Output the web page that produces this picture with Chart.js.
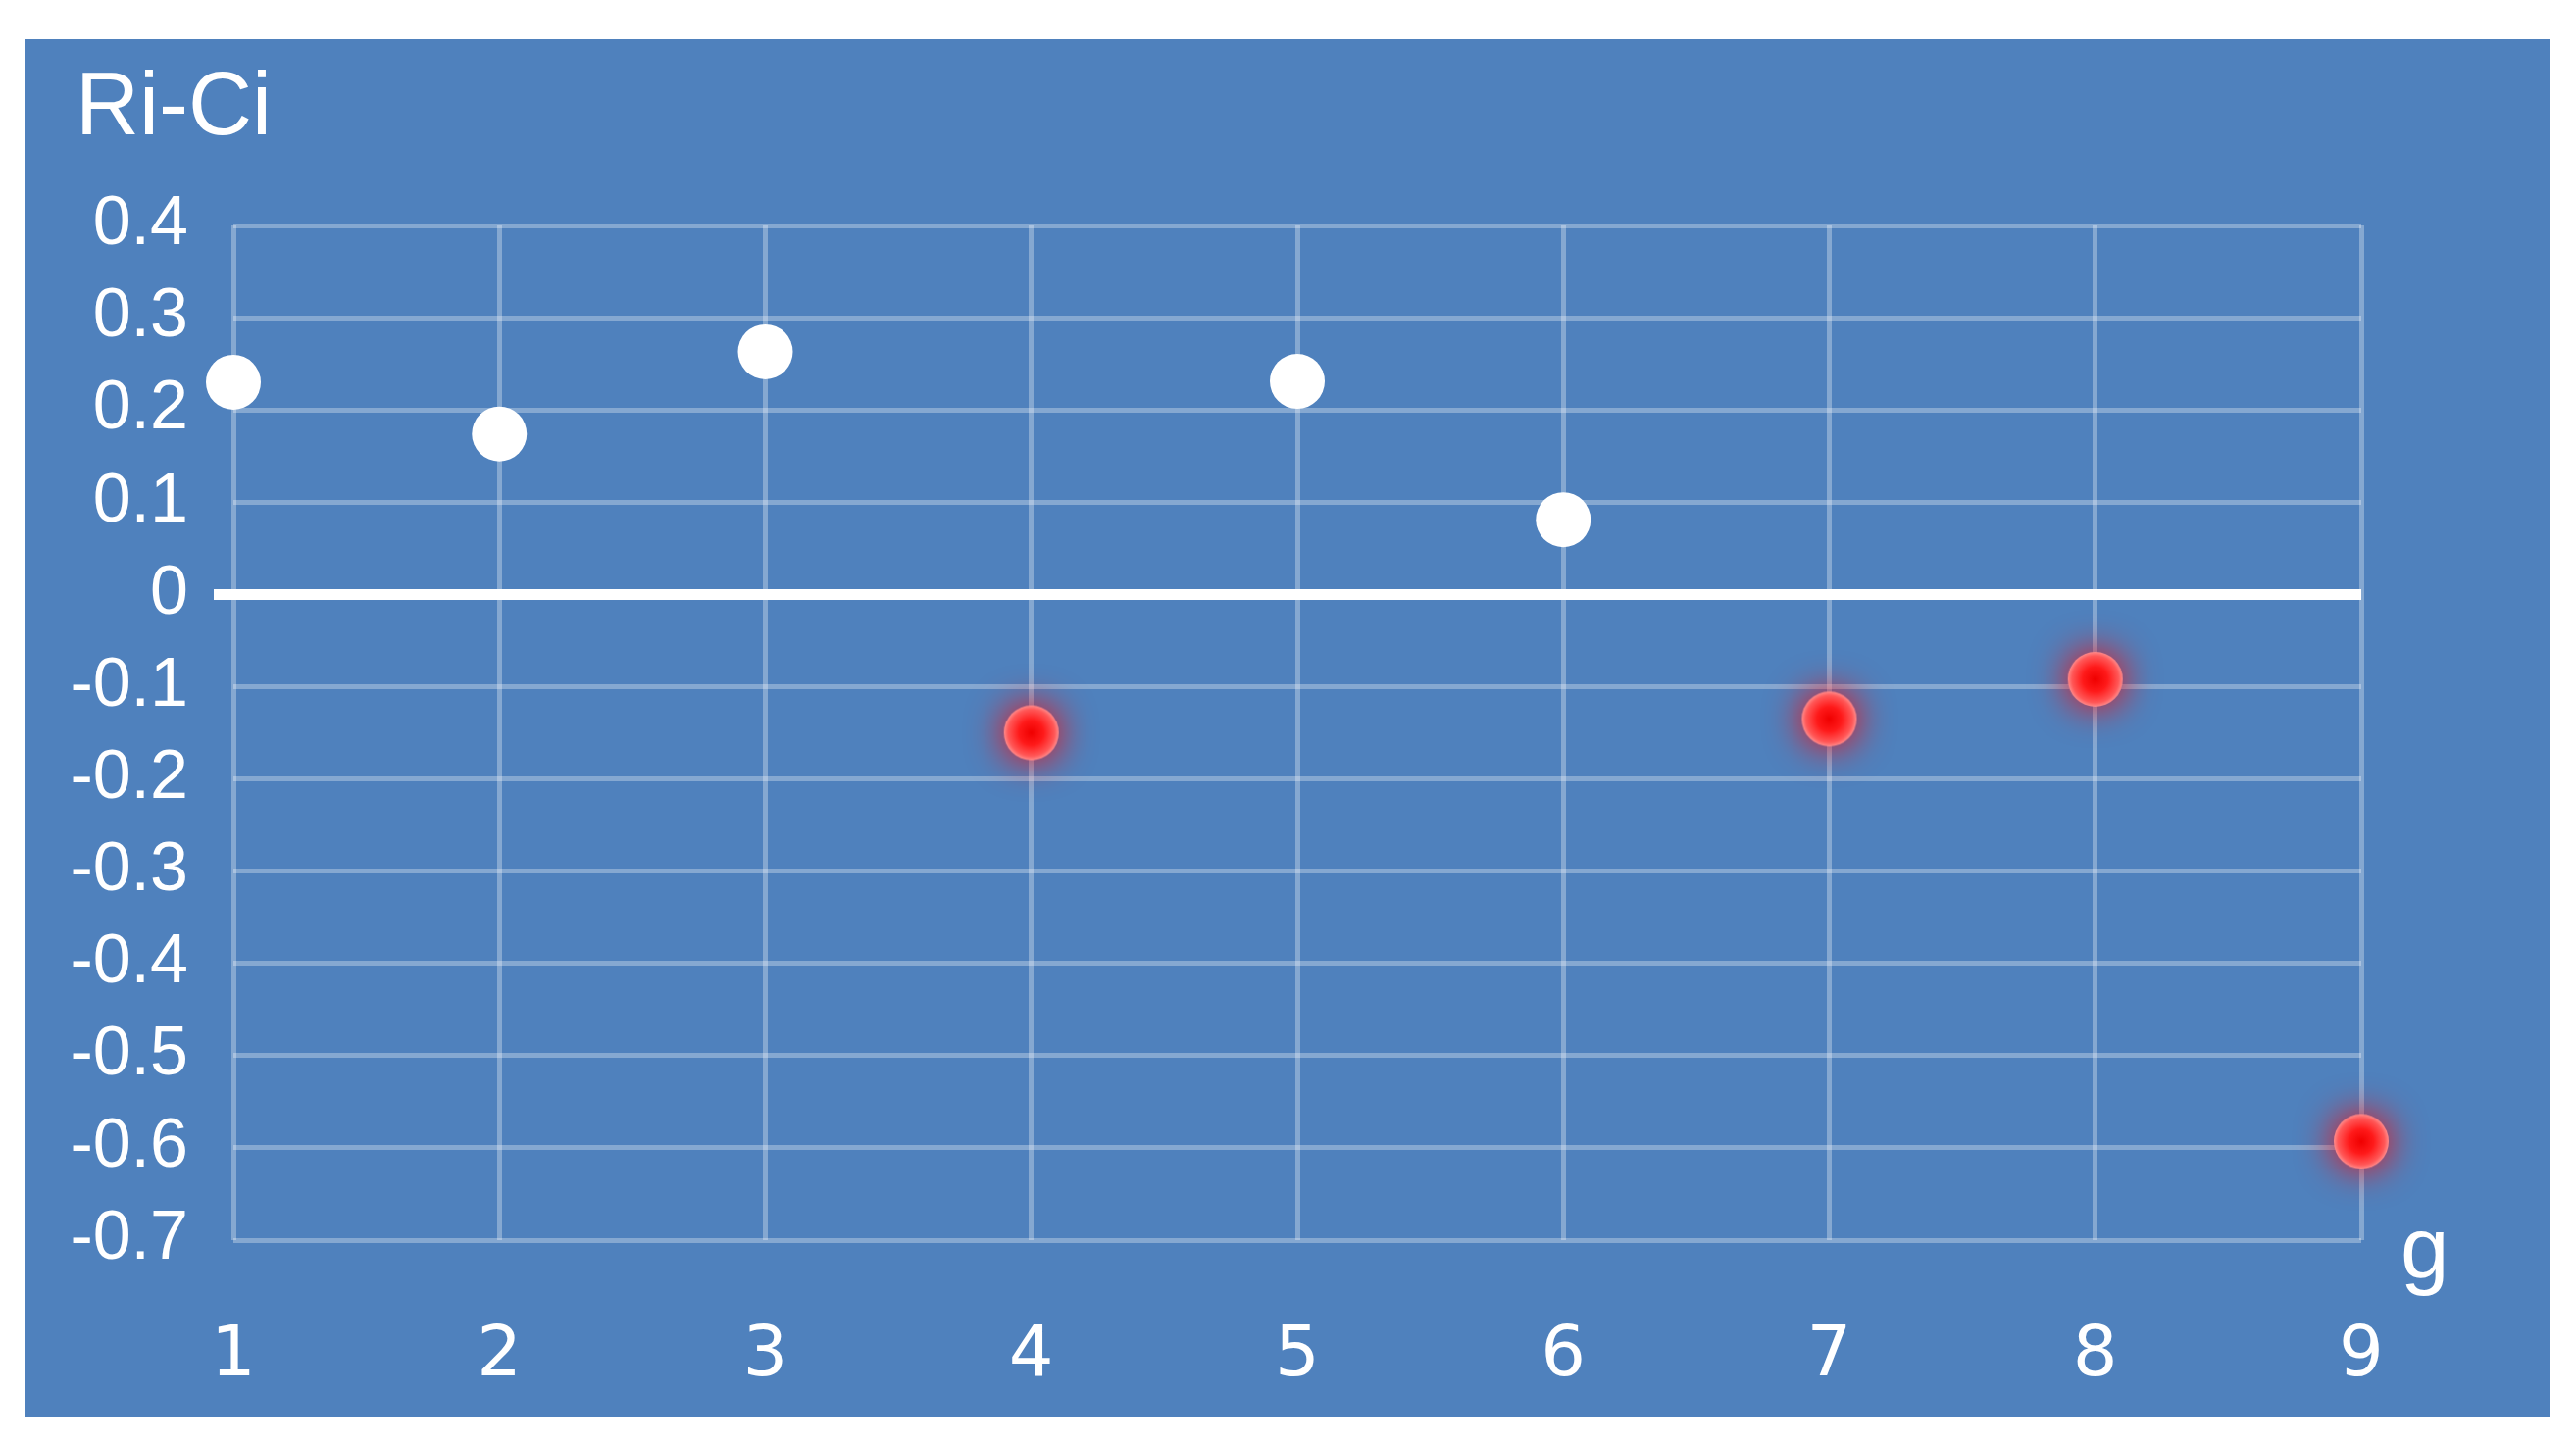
<!DOCTYPE html>
<html>
<head>
<meta charset="utf-8">
<title>Ri-Ci</title>
<script src="https://cdn.jsdelivr.net/npm/chart.js@4.4.1/dist/chart.umd.min.js"></script>
<style>
    body { margin: 0; background: #ffffff; }
    #panel {
        position: absolute;
        left: 25px;
        top: 40px;
        width: 2575px;
        height: 1405px;
        background: #4f81bd;
    }
</style>
</head>
<body>
<div id="panel">
    <canvas id="ri-chart" width="2575" height="1405"></canvas>
</div>
<script>
        // data
        const gValues = [1, 2, 3, 4, 5, 6, 7, 8, 9];
        const riCiValues = [0.23, 0.174, 0.263, -0.15, 0.231, 0.081, -0.135, -0.092, -0.593];
        const yTickValues = [0.4, 0.3, 0.2, 0.1, 0, -0.1, -0.2, -0.3, -0.4, -0.5, -0.6, -0.7];
        const yTickLabels = ['0.4', '0.3', '0.2', '0.1', '0', '-0.1', '-0.2', '-0.3', '-0.4', '-0.5', '-0.6', '-0.7'];
        const xTickLabels = ['1', '2', '3', '4', '5', '6', '7', '8', '9'];
        const yTitle = 'Ri-Ci';
        const xTitle = 'g';

        var abovePoints = [];
        var belowPoints = [];
        for (let i = 0; i < gValues.length; i++) {
            if (riCiValues[i] >= 0) {
                abovePoints.push({ x: gValues[i], y: riCiValues[i] });
            } else {
                belowPoints.push({ x: gValues[i], y: riCiValues[i] });
            }
        }

        const gridColor = 'rgba(255, 255, 255, 0.31)';

        // glowing red dot, used as the point style of the negative points
        function makeRedDot() {
            const c = document.createElement('canvas');
            c.width = 180;
            c.height = 180;
            const g2 = c.getContext('2d');
            const grad = g2.createRadialGradient(90, 90, 0, 90, 90, 28);
            grad.addColorStop(0, '#f00000');
            grad.addColorStop(0.45, '#ff1a1a');
            grad.addColorStop(0.85, '#ff5858');
            grad.addColorStop(1, '#ff8c8c');
            g2.shadowColor = 'rgba(255, 0, 0, 1)';
            g2.shadowBlur = 38;
            g2.fillStyle = grad;
            g2.beginPath();
            g2.arc(90, 90, 28, 0, Math.PI * 2);
            g2.fill();
            return c;
        }
        const redDot = makeRedDot();

        const titlesPlugin = {
            id: 'titles',
            afterDraw(chart) {
                const ctx = chart.ctx;
                const area = chart.chartArea;
                ctx.save();
                ctx.fillStyle = '#ffffff';
                ctx.textAlign = 'left';
                ctx.textBaseline = 'alphabetic';
                ctx.font = '90px "Liberation Sans", Arial, sans-serif';
                ctx.fillText(yTitle, 52, 97);
                ctx.font = '89px "Liberation Sans", Arial, sans-serif';
                ctx.fillText(xTitle, area.right + 40, area.bottom + 38);
                ctx.restore();
            }
        };

        const ctx = document.getElementById('ri-chart').getContext('2d');
        var riChart = new Chart(ctx, {
            type: 'scatter',
            data: {
                datasets: [
                    {
                        label: 'Ri-Ci >= 0',
                        data: abovePoints,
                        backgroundColor: '#ffffff',
                        borderWidth: 0,
                        pointRadius: 28,
                        pointHoverRadius: 28,
                        clip: false,
                    },
                    {
                        label: 'Ri-Ci < 0',
                        data: belowPoints,
                        pointStyle: redDot,
                        pointRadius: 28,
                        pointHoverRadius: 28,
                        clip: false,
                    },
                ],
            },
            options: {
                responsive: false,
                animation: false,
                events: [],
                layout: {
                    padding: { top: 190, right: 192, left: 0, bottom: 0 },
                },
                scales: {
                    x: {
                        type: 'linear',
                        min: 1,
                        max: 9,
                        afterFit: function (scale) { scale.height = 180; },
                        afterBuildTicks: function (scale) {
                            scale.ticks = gValues.map(v => ({ value: v }));
                        },
                        ticks: {
                            color: '#ffffff',
                            font: { family: '"DejaVu Sans", sans-serif', size: 72 },
                            padding: 76,
                            maxRotation: 0,
                            autoSkip: false,
                            callback: function (value, index) { return xTickLabels[index]; },
                        },
                        grid: {
                            color: gridColor,
                            lineWidth: 5,
                            drawTicks: false,
                        },
                        border: { display: false },
                    },
                    y: {
                        type: 'linear',
                        min: -0.7,
                        max: 0.4,
                        afterFit: function (scale) { scale.width = 213; },
                        afterBuildTicks: function (scale) {
                            scale.ticks = yTickValues.map(v => ({ value: v }));
                        },
                        ticks: {
                            color: '#ffffff',
                            font: { family: '"Liberation Sans", Arial, sans-serif', size: 70 },
                            padding: 26,
                            autoSkip: false,
                            callback: function (value, index) { return yTickLabels[index]; },
                        },
                        grid: {
                            color: (c) => (c.tick && c.tick.value === 0 ? '#ffffff' : gridColor),
                            lineWidth: (c) => (c.tick && c.tick.value === 0 ? 11 : 5),
                            drawTicks: true,
                            tickLength: 20,
                            tickColor: (c) => (c.tick && c.tick.value === 0 ? '#ffffff' : 'rgba(0,0,0,0)'),
                            tickWidth: (c) => (c.tick && c.tick.value === 0 ? 11 : 1),
                        },
                        border: { display: false },
                    },
                },
                plugins: {
                    legend: { display: false },
                    tooltip: { enabled: false },
                },
            },
            plugins: [titlesPlugin],
        });
</script>
</body>
</html>
